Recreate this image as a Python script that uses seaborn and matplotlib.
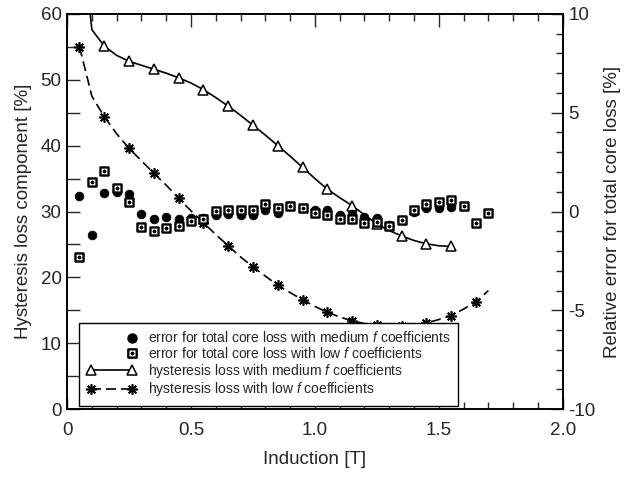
import matplotlib
matplotlib.use("Agg")
import matplotlib.pyplot as plt
import numpy as np
import pandas as pd
import seaborn as sns
from matplotlib.path import Path
from matplotlib.lines import Line2D
from matplotlib.ticker import MultipleLocator, FuncFormatter

# ---------------- data ----------------
B_med = [0.05, 0.10, 0.15, 0.20, 0.25, 0.30, 0.35, 0.40, 0.45, 0.50, 0.55, 0.60,
         0.65, 0.70, 0.75, 0.80, 0.85, 0.90, 0.95, 1.00, 1.05, 1.10, 1.15, 1.20,
         1.25, 1.30, 1.35, 1.40, 1.45, 1.50, 1.55]
hyst_med = [75.0, 57.6, 55.1, 53.7, 52.8, 52.2, 51.6, 51.0, 50.3, 49.5, 48.5, 47.3,
            46.0, 44.6, 43.1, 41.6, 40.0, 38.4, 36.7, 35.0, 33.4, 32.1, 30.9, 29.5,
            28.1, 27.1, 26.3, 25.6, 25.1, 24.8, 24.7]

B_low = [0.05, 0.10, 0.15, 0.20, 0.25, 0.30, 0.35, 0.40, 0.45, 0.50, 0.55, 0.60,
         0.65, 0.70, 0.75, 0.80, 0.85, 0.90, 0.95, 1.00, 1.05, 1.10, 1.15, 1.20,
         1.25, 1.30, 1.35, 1.40, 1.45, 1.50, 1.55, 1.60, 1.65, 1.70]
hyst_low = [55.0, 47.5, 44.4, 41.8, 39.6, 37.7, 35.8, 34.0, 32.0, 30.1, 28.3, 26.5,
            24.8, 23.1, 21.6, 20.2, 18.8, 17.7, 16.6, 15.6, 14.7, 14.0, 13.4, 13.0,
            12.8, 12.6, 12.6, 12.8, 13.1, 13.6, 14.2, 15.2, 16.3, 18.0]

B_err_med = B_med
err_med = [0.80, -1.20, 0.93, 0.97, 0.90, -0.13, -0.37, -0.30, -0.37, -0.33, -0.33,
           -0.17, -0.13, -0.20, -0.17, 0.10, -0.07, 0.27, 0.20, 0.07, 0.07, -0.20,
           -0.13, -0.30, -0.33, -0.67, -0.43, -0.03, 0.17, 0.17, 0.23]

B_err_low = B_low
err_low = [-2.30, 1.47, 2.03, 1.17, 0.50, -0.77, -0.97, -0.83, -0.73, -0.50, -0.37,
           0.03, 0.10, 0.10, 0.10, 0.37, 0.20, 0.30, 0.20, -0.10, -0.17, -0.37,
           -0.37, -0.57, -0.53, -0.73, -0.43, 0.10, 0.37, 0.50, 0.60, 0.27, -0.60,
           -0.07]

labels = [
    "error for total core loss with medium $\\it{f}$ coefficients",
    "error for total core loss with low $\\it{f}$ coefficients",
    "hysteresis loss with medium $\\it{f}$ coefficients",
    "hysteresis loss with low $\\it{f}$ coefficients",
]

# ---------------- style ----------------
sns.set_style("ticks")
plt.rcParams["font.family"] = ["Liberation Sans", "DejaVu Sans"]
plt.rcParams["mathtext.fontset"] = "custom"
plt.rcParams["mathtext.rm"] = "Liberation Sans"
plt.rcParams["mathtext.it"] = "Liberation Sans:italic"
plt.rcParams["axes.unicode_minus"] = False
plt.rcParams["axes.linewidth"] = 1.2

# boxed-x marker
box_verts = [(-1, -1), (1, -1), (1, 1), (-1, 1), (-1, -1),
             (-0.3, -0.3), (0.3, 0.3), (-0.3, 0.3), (0.3, -0.3)]
box_codes = [Path.MOVETO, Path.LINETO, Path.LINETO, Path.LINETO, Path.CLOSEPOLY,
             Path.MOVETO, Path.LINETO, Path.MOVETO, Path.LINETO]
box_marker = Path(box_verts, box_codes)
star_marker = (8, 2, 0)

fig = plt.figure(figsize=(6.33, 4.78), dpi=100)
ax = fig.add_axes([0.106, 0.144, 0.783, 0.827])
ax2 = ax.twinx()

df_med = pd.DataFrame({"B": B_med, "H": hyst_med})
df_low = pd.DataFrame({"B": B_low, "H": hyst_low})
sns.lineplot(data=df_med, x="B", y="H", ax=ax, color="black", lw=1.2,
             marker="^", markersize=6.5, markerfacecolor="white",
             markeredgecolor="black", markeredgewidth=1.1, markevery=(2, 2),
             legend=False)
sns.lineplot(data=df_low, x="B", y="H", ax=ax, color="black", lw=1.2,
             linestyle=(0, (6, 3)), marker=star_marker, markersize=7.5,
             markeredgecolor="black", markeredgewidth=1.2, markevery=2,
             legend=False)

sns.scatterplot(x=B_err_med, y=err_med, ax=ax2, marker="o", s=40,
                color="black", edgecolor="black", linewidth=0.5, zorder=3,
                legend=False)
sns.scatterplot(x=B_err_low, y=err_low, ax=ax2, marker=box_marker, s=34,
                facecolor="white", edgecolor="black", linewidth=1.7, zorder=4,
                legend=False)

# axes limits and ticks
ax.set_xlim(0, 2.0)
ax.set_ylim(0, 60)
ax2.set_ylim(-10, 10)

ax.xaxis.set_major_locator(MultipleLocator(0.5))
ax.xaxis.set_minor_locator(MultipleLocator(0.1))
ax.xaxis.set_major_formatter(FuncFormatter(lambda v, p: "0" if abs(v) < 1e-9 else f"{v:.1f}"))
ax.yaxis.set_major_locator(MultipleLocator(10))
ax.yaxis.set_minor_locator(MultipleLocator(5))
ax2.yaxis.set_major_locator(MultipleLocator(5))
ax2.yaxis.set_minor_locator(MultipleLocator(1))

ax.tick_params(axis="x", which="both", direction="in", top=True, bottom=True,
               labelsize=13.5, width=1.0, pad=9)
ax.tick_params(axis="x", which="major", length=9)
ax.tick_params(axis="x", which="minor", length=5)
ax.tick_params(axis="y", which="both", direction="in", left=True, right=False,
               labelsize=13.5, length=9, width=1.0, pad=4)
ax2.tick_params(axis="y", which="both", direction="in", right=True, labelsize=13.5,
                width=1.0, pad=4)
ax2.tick_params(axis="y", which="major", length=9)
ax2.tick_params(axis="y", which="minor", length=5)

ax.set_xlabel("Induction [T]", fontsize=13.5, labelpad=9)
ax.set_ylabel("Hysteresis loss component [%]", fontsize=13.5, labelpad=6)
ax2.set_ylabel("Relative error for total core loss [%]", fontsize=13.5, labelpad=6)

for a in (ax, ax2):
    for s in a.spines.values():
        s.set_linewidth(1.2)
        s.set_color("black")

handles = [
    Line2D([], [], ls="none", marker="o", color="black", markersize=6.5),
    Line2D([], [], ls="none", marker=box_marker, markerfacecolor="white",
           markeredgecolor="black", markeredgewidth=1.7, markersize=6),
    Line2D([], [], color="black", lw=1.2, marker="^", markersize=6.5,
           markerfacecolor="white", markeredgecolor="black", markeredgewidth=1.1),
    Line2D([], [], color="black", lw=1.2, linestyle=(0, (6, 3)), marker=star_marker,
           markersize=7.5, markeredgecolor="black", markeredgewidth=1.2),
]
leg = ax2.legend(handles, labels, loc="lower left", bbox_to_anchor=(0.024, 0.008),
                 borderaxespad=0, fontsize=10, frameon=True, fancybox=False,
                 numpoints=2, handlelength=3.6, handleheight=0.6,
                 handletextpad=0.8, labelspacing=0.05, borderpad=0.55)
leg.get_frame().set_edgecolor("black")
leg.get_frame().set_linewidth(1.0)
leg.get_frame().set_alpha(1)
for h in leg.legend_handles[:2]:
    h.set_markevery([1])

fig.savefig("out.png", dpi=100)
